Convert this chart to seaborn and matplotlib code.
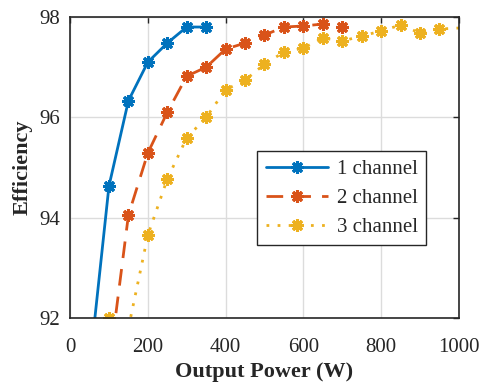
import matplotlib
matplotlib.use("Agg")
import matplotlib.pyplot as plt
import seaborn as sns
import pandas as pd

# Measured efficiency vs output power for 1, 2 and 3 active channels
power_1ch = [50, 100, 150, 200, 250, 300, 350]
eff_1ch = [91.0, 94.63, 96.33, 97.10, 97.48, 97.80, 97.80]

power_2ch = [100, 150, 200, 250, 300, 350, 400, 450, 500, 550, 600, 650, 700]
eff_2ch = [91.0, 94.05, 95.29, 96.10, 96.82, 97.00, 97.36, 97.48, 97.64,
           97.80, 97.82, 97.86, 97.80]

power_3ch = [100, 150, 200, 250, 300, 350, 400, 450, 500, 550, 600, 650,
             700, 750, 800, 850, 900, 950, 1050]
eff_3ch = [92.0, 91.8, 93.65, 94.77, 95.59, 96.00, 96.55, 96.74, 97.06,
           97.30, 97.38, 97.58, 97.52, 97.62, 97.72, 97.84, 97.68, 97.76,
           97.80]

labels = ["1 channel", "2 channel", "3 channel"]
colors = ["#0072BD", "#D95319", "#EDB120"]
dashes = ["-", (0, (6, 4)), (0, (1, 3))]

x_ticks = [0, 200, 400, 600, 800, 1000]
y_ticks = [92, 94, 96, 98]

sns.set_theme(style="whitegrid")
plt.rcParams["font.family"] = ["Liberation Serif", "DejaVu Serif"]

fig = plt.figure(figsize=(4.8, 3.86), dpi=100)
ax = fig.add_axes([0.146, 0.176, 0.810, 0.780])

asterisk = (8, 2, 0)


def style_marker(line, col):
    line.set_marker(asterisk)
    line.set_markersize(9)
    line.set_markeredgewidth(2.2)
    line.set_markeredgecolor(col)
    line.set_markerfacecolor(col)


series = [(power_1ch, eff_1ch), (power_2ch, eff_2ch), (power_3ch, eff_3ch)]
for (px, py), lab, col, ls in zip(series, labels, colors, dashes):
    df = pd.DataFrame({"Output Power (W)": px, "Efficiency": py})
    sns.lineplot(data=df, x="Output Power (W)", y="Efficiency", ax=ax,
                 color=col, linewidth=2.0, linestyle=ls, label=lab,
                 sort=False, estimator=None)
    style_marker(ax.lines[-1], col)

ax.set_xlim(0, 1000)
ax.set_ylim(92, 98)
ax.set_xticks(x_ticks)
ax.set_yticks(y_ticks)
ax.tick_params(axis="both", which="both", direction="in", length=4,
               width=1.0, colors="#262626", labelsize=15, labelcolor="#262626",
               top=True, right=True, pad=7)
ax.tick_params(axis="x", pad=14)
ax.grid(True, color="#dcdcdc", linewidth=1.0)
for sp in ax.spines.values():
    sp.set_color("#262626")
    sp.set_linewidth(1.2)
ax.set_facecolor("white")

ax.set_xlabel("Output Power (W)", fontsize=16, fontweight="bold",
              color="#262626", labelpad=4)
ax.set_ylabel("Efficiency", fontsize=16, fontweight="bold",
              color="#262626", labelpad=5)

leg = ax.legend(loc="upper left", bbox_to_anchor=(0.482, 0.555),
                fontsize=15, frameon=True, fancybox=False, handlelength=3.0,
                handletextpad=0.4, borderpad=0.4, labelspacing=0.45,
                borderaxespad=0)
leg.get_frame().set_edgecolor("#262626")
leg.get_frame().set_linewidth(1.0)
leg.get_frame().set_alpha(1)
for h, col in zip(leg.get_lines(), colors):
    style_marker(h, col)

fig.savefig("out.png", dpi=100, facecolor="white")
